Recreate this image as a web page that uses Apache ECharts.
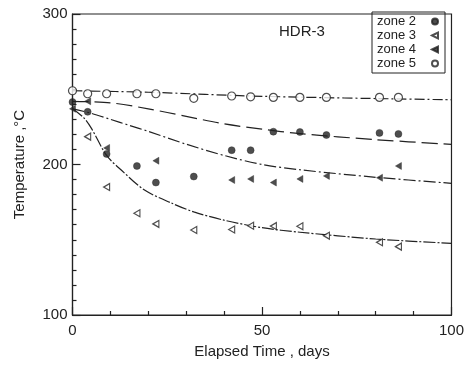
<!DOCTYPE html>
<html>
<head>
<meta charset="utf-8">
<script src="https://cdn.jsdelivr.net/npm/echarts@6/dist/echarts.min.js"></script>
<style>html,body{margin:0;padding:0;background:#fff;}#c{width:467px;height:366px;}</style>
</head>
<body>
<div id="c"></div>
<script>
// Measured points (days, °C)
var zone2Days = [0, 4, 9, 17, 22, 32, 42, 47, 53, 60, 67, 81, 86];
var zone2Temp = [241.5, 235, 207, 199, 188, 192, 209.5, 209.5, 221.8, 221.6, 219.6, 221, 220.3];
var zone3Days = [4, 9, 17, 22, 32, 42, 47, 53, 60, 67, 81, 86];
var zone3Temp = [218.5, 185, 167.6, 160.5, 156.5, 156.8, 159.3, 159.1, 159, 152.7, 148.3, 145.4];
var zone4Days = [0, 4, 9, 22, 42, 47, 53, 60, 67, 81, 86];
var zone4Temp = [237, 242, 211, 202.5, 189.7, 190.4, 188, 190.4, 192.4, 191.2, 199];
var zone5Days = [0, 4, 9, 17, 22, 32, 42, 47, 53, 60, 67, 81, 86];
var zone5Temp = [249, 247, 247, 247, 247, 244, 245.5, 245, 244.6, 244.6, 244.6, 244.6, 244.6];

// Model curves
var fit2Days = [0, 10, 20, 30, 40, 50, 60, 80, 100];
var fit2Temp = [242, 241, 237, 232, 227, 223.5, 220.5, 216.5, 213.4];
var fit3Days = [0, 3, 5, 9, 13, 19, 26, 32, 40, 50, 60, 80, 100];
var fit3Temp = [237, 231, 224, 206, 196, 183, 174.5, 168.5, 163, 158, 155, 150.5, 147.6];
var fit4Days = [0, 5, 10, 15, 20, 30, 40, 50, 60, 80, 100];
var fit4Temp = [237, 234, 230, 226, 222, 213.5, 206, 200, 196.5, 191.5, 187.5];
var fit5Days = [0, 20, 50, 100];
var fit5Temp = [249, 248, 245.3, 243];

var xTicks = [0, 50, 100];
var yTicks = [100, 200, 300];

function pairs(xs, ys) { return xs.map(function (x, i) { return [x, ys[i]]; }); }

var ink = '#222';
var font = 'Liberation Sans';
var triLeft = 'path://M0,5 L10,0 L10,10 Z';

function fitLine(xs, ys, dash) {
  return {
    type: 'line', data: pairs(xs, ys), showSymbol: false, symbol: 'none',
    smooth: 0.3, silent: true, z: 1,
    lineStyle: { color: ink, width: 1.2, type: dash }
  };
}

var chart = echarts.init(document.getElementById('c'), null, { renderer: 'canvas' });
chart.setOption({
  backgroundColor: '#fff',
  animation: false,
  textStyle: { fontFamily: font, color: ink },
  grid: { left: 72.5, right: 14.5, top: 14, bottom: 51, show: true, borderColor: ink, borderWidth: 1.2, backgroundColor: 'transparent' },
  title: {
    text: 'HDR-3', left: 274, top: 19,
    textStyle: { fontFamily: font, fontSize: 15, fontWeight: 'normal', color: ink }
  },
  legend: {
    orient: 'vertical', left: 372, top: 12, align: 'right',
    data: ['zone 2', 'zone 3', 'zone 4', 'zone 5'],
    borderColor: ink, borderWidth: 1, padding: [3, 6, 3, 5],
    itemGap: 1, itemWidth: 6, itemHeight: 6,
    formatter: function (name) { return '{t|' + name + '}'; },
    textStyle: { fontFamily: font, fontSize: 13, color: ink,
      rich: { t: { width: 50, align: 'left', fontFamily: font, fontSize: 13, color: ink } } }
  },
  xAxis: {
    type: 'value', min: 0, max: 100, interval: 50,
    name: 'Elapsed Time , days', nameLocation: 'middle', nameGap: 29,
    nameTextStyle: { fontFamily: font, fontSize: 15, color: ink },
    axisLine: { show: true, lineStyle: { color: ink, width: 1.2 } },
    axisTick: { show: true, inside: true, length: 8, lineStyle: { color: ink, width: 1.2 } },
    minorTick: { show: true, splitNumber: 5, length: 4, lineStyle: { color: ink, width: 1.2 } },
    splitLine: { show: false },
    axisLabel: { fontFamily: font, fontSize: 15, color: ink, margin: 8,
      formatter: function (v) { return xTicks.indexOf(v) >= 0 ? String(v) : ''; } }
  },
  yAxis: {
    type: 'value', min: 100, max: 300, interval: 100,
    name: 'Temperature ,°C', nameLocation: 'middle', nameGap: 45, nameRotate: 90,
    nameTextStyle: { fontFamily: font, fontSize: 15, color: ink },
    axisLine: { show: true, lineStyle: { color: ink, width: 1.2 } },
    axisTick: { show: true, inside: true, length: 8, lineStyle: { color: ink, width: 1.2 } },
    minorTick: { show: true, splitNumber: 10, length: 4, lineStyle: { color: ink, width: 1.2 } },
    splitLine: { show: false },
    axisLabel: { fontFamily: font, fontSize: 15, color: ink, margin: 5,
      formatter: function (v) { return yTicks.indexOf(v) >= 0 ? String(v) : ''; } }
  },
  series: [
    fitLine(fit5Days, fit5Temp, [10, 3, 2, 3]),
    fitLine(fit2Days, fit2Temp, [16, 6]),
    fitLine(fit4Days, fit4Temp, [12, 3, 2, 3]),
    fitLine(fit3Days, fit3Temp, [12, 2, 2, 2]),
    { name: 'zone 2', type: 'scatter', data: pairs(zone2Days, zone2Temp), symbol: 'circle', symbolSize: 7, z: 3,
      itemStyle: { color: ink, borderColor: ink, borderWidth: 0.5 } },
    { name: 'zone 3', type: 'scatter', data: pairs(zone3Days, zone3Temp), symbol: triLeft, symbolSize: [6, 7], z: 3,
      itemStyle: { color: '#fff', borderColor: ink, borderWidth: 1.2 } },
    { name: 'zone 4', type: 'scatter', data: pairs(zone4Days, zone4Temp), symbol: triLeft, symbolSize: [6, 7], z: 3,
      itemStyle: { color: ink, borderColor: ink, borderWidth: 0.5 } },
    { name: 'zone 5', type: 'scatter', data: pairs(zone5Days, zone5Temp), symbol: 'circle', symbolSize: 8, z: 3,
      itemStyle: { color: '#fff', borderColor: ink, borderWidth: 1.2 } }
  ]
});
</script>
</body>
</html>
